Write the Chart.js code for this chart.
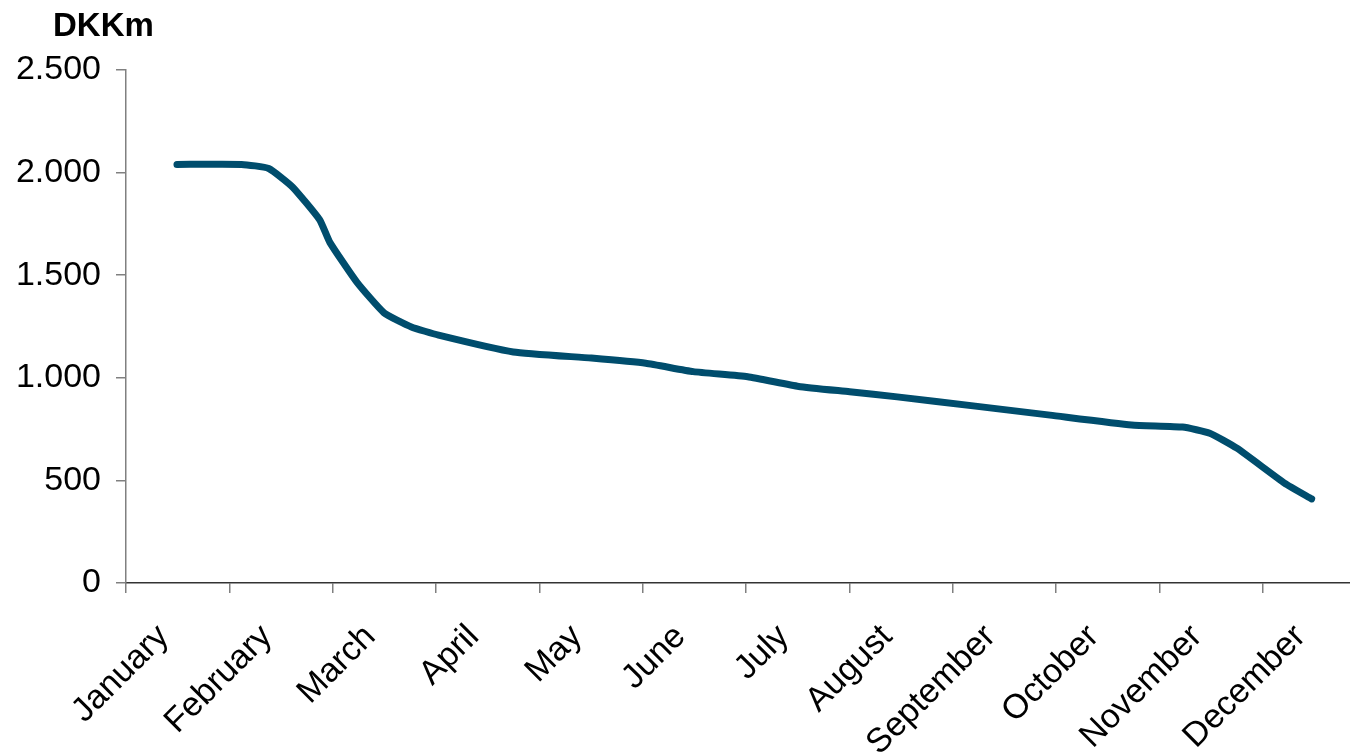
<!DOCTYPE html>
<html>
<head>
<meta charset="utf-8">
<script src="https://cdn.jsdelivr.net/npm/chart.js@4"></script>
<style>
  html, body { margin: 0; padding: 0; overflow: hidden; background: #ffffff; }
  #wrap { width: 1380px; height: 753px; position: relative; }
</style>
</head>
<body>
<div id="wrap"><canvas id="c" width="1380" height="753"></canvas></div>
<script>
// Month categories shown along the bottom axis
const months = ['January', 'February', 'March', 'April', 'May', 'June',
                'July', 'August', 'September', 'October', 'November', 'December'];

// Observation dates (day of year) and balance in DKK millions
const days    = [15, 34, 42, 49, 57, 60, 68, 76, 84, 92, 114, 137, 153, 167, 183, 198, 213, 227, 250, 272, 296, 311, 319, 327, 341, 349];
const balance = [2040, 2040, 2020, 1930, 1770, 1660, 1465, 1316, 1248, 1208, 1126, 1096, 1071, 1030, 1005, 958, 932, 907, 862, 818, 770, 760, 730, 657, 487, 410];

// Value axis range and tick step
const yMin = 0;
const yMax = 2500;
const yStep = 500;
const unitLabel = 'DKKm';

const FONT = "'Liberation Sans', Arial, Helvetica, sans-serif";

const points = days.map((d, i) => ({ x: d, y: balance[i] }));

// Thousands separator as a dot: 2500 -> 2.500
const fmt = v => String(v).replace(/\B(?=(\d{3})+(?!\d))/g, '.');

const unitPlugin = {
  id: 'unitLabel',
  afterDraw(chart) {
    const ctx = chart.ctx;
    ctx.save();
    ctx.font = "bold 33px " + FONT;
    ctx.fillStyle = '#000000';
    ctx.textAlign = 'left';
    ctx.textBaseline = 'alphabetic';
    ctx.fillText(unitLabel, 53, 36);
    ctx.restore();
  }
};

new Chart(document.getElementById('c'), {
  type: 'line',
  data: {
    datasets: [{
      data: points,
      xAxisID: 'xd',
      yAxisID: 'y',
      borderColor: '#004D6D',
      borderWidth: 7,
      borderCapStyle: 'round',
      borderJoinStyle: 'round',
      pointRadius: 0,
      tension: 0.15,
      fill: false
    }]
  },
  options: {
    responsive: false,
    animation: false,
    devicePixelRatio: 1,
    layout: { padding: { top: 70, right: 14, left: 0, bottom: 0 } },
    plugins: {
      legend: { display: false },
      tooltip: { enabled: false },
      title: { display: false }
    },
    scales: {
      x: {
        type: 'category',
        labels: months,
        position: 'bottom',
        offset: true,
        grid: {
          offset: true,
          drawOnChartArea: false,
          drawTicks: true,
          tickLength: 10,
          color: '#808080',
          lineWidth: 1.5
        },
        border: { display: true, color: '#333333', width: 1.5 },
        ticks: {
          autoSkip: false,
          minRotation: 45,
          maxRotation: 45,
          color: '#000000',
          padding: 24,
          labelOffset: -14,
          font: { family: FONT, size: 34 }
        },
        afterFit: s => { s.height = 170; }
      },
      xd: {
        type: 'linear',
        display: false,
        min: 0,
        max: 365
      },
      y: {
        type: 'linear',
        position: 'left',
        min: yMin,
        max: yMax,
        grid: {
          drawOnChartArea: false,
          drawTicks: true,
          tickLength: 10,
          color: '#808080',
          lineWidth: 1.5
        },
        border: { display: true, color: '#808080', width: 1.5 },
        ticks: {
          stepSize: yStep,
          color: '#000000',
          padding: 15,
          font: { family: FONT, size: 34 },
          callback: v => fmt(v)
        },
        afterFit: s => { s.width = 126; }
      }
    }
  },
  plugins: [unitPlugin]
});
</script>
</body>
</html>
